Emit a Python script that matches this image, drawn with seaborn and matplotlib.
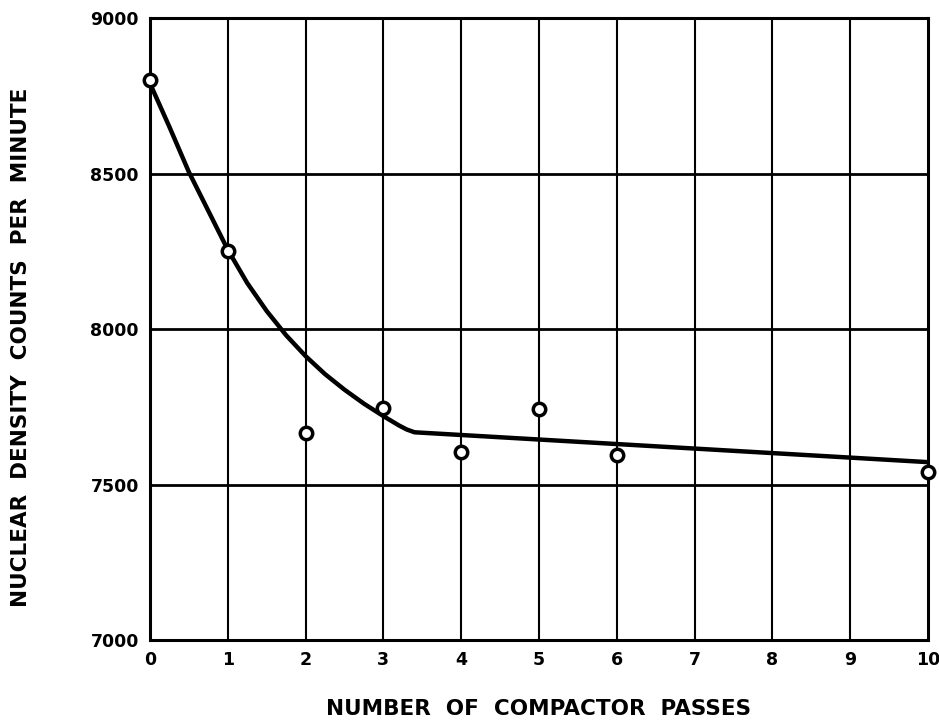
import matplotlib
matplotlib.use("Agg")
import matplotlib.pyplot as plt
import seaborn as sns
import pandas as pd

# Measured points
passes = [0, 1, 2, 3, 4, 5, 6, 10]
counts = [8800, 8250, 7665, 7745, 7603, 7742, 7595, 7540]

# Hand-drawn fitted curve
curve_x = [0, 0.25, 0.5, 0.75, 1, 1.25, 1.5, 1.75, 2, 2.25, 2.5, 2.75, 3, 3.2, 3.3, 3.4, 10]
curve_y = [8790, 8650, 8505, 8380, 8255, 8148, 8058, 7980, 7913, 7855, 7805, 7760, 7720, 7690, 7677, 7668, 7572]

x_ticks = list(range(0, 11))
x_tick_labels = [str(v) for v in x_ticks]
y_ticks = [7000, 7500, 8000, 8500, 9000]
y_tick_labels = [str(v) for v in y_ticks]

sns.set_style("white")
plt.rcParams['font.family'] = ['DejaVu Sans']
plt.rcParams.update({"text.color": "black", "axes.labelcolor": "black",
                     "xtick.color": "black", "ytick.color": "black"})

fig = plt.figure(figsize=(9.39, 7.21), dpi=100)
ax = fig.add_axes([0.1597, 0.1123, 0.8286, 0.8627])

pts = pd.DataFrame({"x": passes, "y": counts})
crv = pd.DataFrame({"x": curve_x, "y": curve_y})

ax.set_xlim(0, 10)
ax.set_ylim(7000, 9000)
ax.set_xticks(x_ticks)
ax.set_xticklabels(x_tick_labels)
ax.set_yticks(y_ticks)
ax.set_yticklabels(y_tick_labels)

for v in x_ticks[1:-1]:
    ax.axvline(v, color="black", lw=1.5, zorder=1)
for v in y_ticks[1:-1]:
    ax.axhline(v, color="black", lw=2.0, zorder=1)

sns.lineplot(data=crv, x="x", y="y", ax=ax, color="black", lw=3.2, zorder=3,
             sort=False, solid_joinstyle="round", solid_capstyle="round")
sns.scatterplot(data=pts, x="x", y="y", ax=ax, s=80, facecolor="white",
                edgecolor="black", linewidth=2.5, zorder=4, clip_on=False)

for sp in ax.spines.values():
    sp.set_color("black")
    sp.set_linewidth(2.2)

ax.tick_params(axis="both", length=0, labelsize=12.5, pad=8, colors="black")
for lab in ax.get_xticklabels() + ax.get_yticklabels():
    lab.set_fontweight("bold")

ax.set_xlabel("NUMBER  OF  COMPACTOR  PASSES", fontsize=15.5, fontweight="bold")
ax.xaxis.set_label_coords(0.5, -0.095)
ax.set_ylabel("NUCLEAR  DENSITY  COUNTS  PER  MINUTE", fontsize=15.5, fontweight="bold")
ax.yaxis.set_label_coords(-0.153, 0.47)

fig.savefig("out.png", dpi=100)
